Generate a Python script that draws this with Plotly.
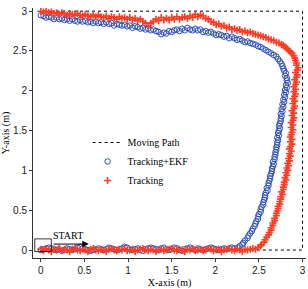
import plotly.graph_objects as go

# Moving path (reference trajectory)
path_x = [0, 3, 3, 0]
path_y = [0, 0, 3, 3]

# Tracking+EKF (blue circles): bottom, right side, top segments
ekf_bottom_x = [0.00,0.03,0.06,0.09,0.12,0.15,0.18,0.21,0.24,0.27,
                0.30,0.33,0.36,0.39,0.42,0.45,0.48,0.51,0.54,0.57,
                0.60,0.63,0.66,0.69,0.72,0.75,0.78,0.81,0.84,0.87,
                0.90,0.93,0.96,0.99,1.02,1.05,1.08,1.11,1.14,1.17,
                1.20,1.23,1.26,1.29,1.32,1.35,1.38,1.41,1.44,1.47,
                1.50,1.53,1.56,1.59,1.62,1.65,1.68,1.71,1.74,1.77,
                1.80,1.83,1.86,1.89,1.92,1.95,1.98,2.01,2.04,2.07,
                2.10,2.13,2.16,2.19,2.22]
ekf_bottom_y = [0.00,0.01,0.02,0.03,0.02,0.01,0.00,0.01,-0.01,0.00,
                0.02,0.01,0.00,0.01,0.03,0.04,0.02,0.01,0.00,-0.01,
                0.00,0.01,0.02,0.01,0.00,0.01,0.03,0.02,0.01,0.00,
                0.01,0.02,0.04,0.03,0.01,0.00,0.01,0.02,0.00,-0.01,
                0.01,0.02,0.03,0.02,0.01,0.00,0.02,0.03,0.01,0.00,
                0.01,0.03,0.02,0.00,-0.01,0.01,0.02,0.03,0.01,0.00,
                0.02,0.01,0.00,0.01,0.02,0.03,0.02,0.01,0.00,0.01,
                0.02,0.01,0.02,0.03,0.02]
ekf_side_x = [2.26,2.28,2.31,2.32,2.34,2.37,2.38,2.40,2.42,2.43,
              2.45,2.46,2.47,2.49,2.49,2.50,2.52,2.52,2.53,2.55,
              2.55,2.56,2.57,2.57,2.58,2.60,2.59,2.61,2.61,2.62,
              2.63,2.63,2.64,2.65,2.65,2.66,2.67,2.66,2.68,2.68,
              2.69,2.69,2.70,2.70,2.71,2.71,2.72,2.71,2.73,2.72,
              2.73,2.74,2.73,2.74,2.75,2.75,2.76,2.75,2.77,2.76,
              2.78,2.77,2.79,2.78,2.80,2.79,2.81,2.80,2.82,2.81,
              2.83,2.82,2.82,2.80,2.81,2.79,2.78,2.77,2.76,2.74,
              2.72,2.70,2.67,2.64,2.61,2.58,2.55,2.52,2.49,2.46,2.43]
ekf_side_y = [0.03,0.05,0.07,0.09,0.12,0.15,0.18,0.21,0.24,0.27,
              0.30,0.33,0.36,0.39,0.42,0.45,0.48,0.51,0.54,0.57,
              0.60,0.63,0.66,0.69,0.72,0.75,0.78,0.81,0.84,0.87,
              0.90,0.93,0.96,0.99,1.02,1.05,1.08,1.11,1.14,1.17,
              1.20,1.23,1.26,1.29,1.32,1.35,1.38,1.41,1.44,1.47,
              1.50,1.53,1.56,1.59,1.62,1.65,1.68,1.71,1.74,1.77,
              1.80,1.83,1.86,1.89,1.92,1.95,1.98,2.01,2.04,2.07,
              2.10,2.13,2.16,2.19,2.22,2.25,2.28,2.31,2.34,2.37,
              2.40,2.43,2.45,2.47,2.49,2.51,2.53,2.55,2.56,2.58,2.59]
ekf_top_x = [2.40,2.37,2.34,2.31,2.28,2.25,2.22,2.19,2.16,2.13,
             2.10,2.07,2.04,2.01,1.98,1.95,1.92,1.89,1.86,1.83,
             1.80,1.77,1.74,1.71,1.68,1.65,1.62,1.59,1.56,1.53,
             1.50,1.47,1.44,1.41,1.38,1.35,1.32,1.29,1.26,1.23,
             1.20,1.17,1.14,1.11,1.08,1.05,1.02,0.99,0.96,0.93,
             0.90,0.87,0.84,0.81,0.78,0.75,0.72,0.69,0.66,0.63,
             0.60,0.57,0.54,0.51,0.48,0.45,0.42,0.39,0.36,0.33,
             0.30,0.27,0.24,0.21,0.18,0.15,0.12,0.09,0.06,0.03,
             0.00]
ekf_top_y = [2.60,2.62,2.61,2.63,2.65,2.64,2.66,2.68,2.66,2.69,
             2.68,2.70,2.71,2.70,2.72,2.74,2.73,2.75,2.74,2.77,
             2.76,2.78,2.76,2.77,2.79,2.76,2.78,2.75,2.77,2.76,
             2.74,2.75,2.72,2.73,2.71,2.74,2.75,2.77,2.76,2.78,
             2.77,2.79,2.78,2.80,2.81,2.79,2.82,2.81,2.83,2.82,
             2.83,2.84,2.82,2.85,2.84,2.86,2.84,2.86,2.85,2.87,
             2.85,2.87,2.86,2.88,2.87,2.89,2.87,2.88,2.90,2.88,
             2.90,2.89,2.91,2.90,2.92,2.90,2.92,2.93,2.92,2.94,
             2.95]

# Tracking (red crosses): bottom, right side, top segments
trk_bottom_x = [0.00,0.03,0.06,0.09,0.12,0.15,0.18,0.21,0.24,0.27,
                0.30,0.33,0.36,0.39,0.42,0.45,0.48,0.51,0.54,0.57,
                0.60,0.63,0.66,0.69,0.72,0.75,0.78,0.81,0.84,0.87,
                0.90,0.93,0.96,0.99,1.02,1.05,1.08,1.11,1.14,1.17,
                1.20,1.23,1.26,1.29,1.32,1.35,1.38,1.41,1.44,1.47,
                1.50,1.53,1.56,1.59,1.62,1.65,1.68,1.71,1.74,1.77,
                1.80,1.83,1.86,1.89,1.92,1.95,1.98,2.01,2.04,2.07,
                2.10,2.13,2.16,2.19,2.22,2.25,2.28,2.31,2.34,2.37,
                2.40,2.43,2.46]
trk_bottom_y = [0.01,-0.01,0.02,0.00,-0.02,0.01,0.00,0.02,-0.01,0.01,
                0.00,-0.02,0.01,0.02,0.00,-0.01,0.01,0.00,-0.02,0.01,
                0.02,0.00,-0.01,0.01,0.00,-0.02,0.01,0.02,0.00,-0.01,
                0.01,0.00,0.02,-0.01,0.00,0.01,-0.02,0.00,0.01,0.02,
                0.00,-0.01,0.01,0.00,-0.02,0.00,0.01,-0.01,0.00,0.01,
                0.02,0.00,-0.01,0.01,0.00,-0.02,0.01,0.00,0.02,-0.01,
                0.00,0.01,-0.01,0.00,0.02,0.01,-0.01,0.00,0.01,-0.02,
                0.00,0.01,0.02,0.00,-0.01,0.01,0.00,-0.02,0.01,0.00,
                0.01,0.02,0.01]
trk_side_x = [2.49,2.52,2.53,2.56,2.57,2.59,2.61,2.62,2.64,2.64,
              2.66,2.66,2.68,2.68,2.70,2.70,2.71,2.72,2.72,2.74,
              2.74,2.75,2.75,2.77,2.76,2.78,2.78,2.79,2.79,2.81,
              2.80,2.82,2.81,2.83,2.82,2.84,2.83,2.85,2.84,2.86,
              2.85,2.87,2.85,2.86,2.88,2.86,2.88,2.86,2.87,2.88,
              2.89,2.87,2.89,2.87,2.89,2.90,2.88,2.90,2.88,2.90,
              2.91,2.89,2.91,2.89,2.91,2.92,2.90,2.92,2.90,2.92,
              2.93,2.91,2.93,2.94,2.92,2.94,2.95,2.93,2.93,2.92,
              2.91,2.90,2.88,2.86,2.84,2.82,2.80,2.78,2.76,2.73,
              2.70,2.67,2.64,2.61,2.58,2.55,2.52,2.49,2.46]
trk_side_y = [0.03,0.05,0.07,0.10,0.13,0.16,0.19,0.22,0.25,0.28,
              0.31,0.34,0.37,0.40,0.43,0.46,0.49,0.52,0.55,0.58,
              0.61,0.64,0.67,0.70,0.73,0.76,0.79,0.82,0.85,0.88,
              0.91,0.94,0.97,1.00,1.03,1.06,1.09,1.12,1.15,1.18,
              1.21,1.24,1.27,1.30,1.33,1.36,1.39,1.42,1.45,1.48,
              1.51,1.54,1.57,1.60,1.63,1.66,1.69,1.72,1.75,1.78,
              1.81,1.84,1.87,1.90,1.93,1.96,1.99,2.02,2.05,2.08,
              2.11,2.14,2.17,2.20,2.23,2.26,2.29,2.32,2.35,2.38,
              2.41,2.44,2.47,2.49,2.51,2.53,2.55,2.57,2.58,2.60,
              2.61,2.63,2.64,2.65,2.67,2.68,2.69,2.70,2.71]
trk_top_x = [2.43,2.40,2.37,2.34,2.31,2.28,2.25,2.22,2.19,2.16,
             2.13,2.10,2.07,2.04,2.01,1.98,1.95,1.92,1.89,1.86,
             1.83,1.80,1.77,1.74,1.71,1.68,1.65,1.62,1.59,1.56,
             1.53,1.50,1.47,1.44,1.41,1.38,1.35,1.32,1.29,1.26,
             1.23,1.20,1.17,1.14,1.11,1.08,1.05,1.02,0.99,0.96,
             0.93,0.90,0.87,0.84,0.81,0.78,0.75,0.72,0.69,0.66,
             0.63,0.60,0.57,0.54,0.51,0.48,0.45,0.42,0.39,0.36,
             0.33,0.30,0.27,0.24,0.21,0.18,0.15,0.12,0.09,0.06,
             0.03,0.00]
trk_top_y = [2.72,2.74,2.73,2.75,2.74,2.77,2.76,2.78,2.77,2.80,
             2.79,2.82,2.81,2.84,2.83,2.86,2.87,2.90,2.91,2.94,
             2.95,2.93,2.96,2.92,2.94,2.91,2.93,2.92,2.90,2.93,
             2.90,2.92,2.89,2.91,2.89,2.92,2.88,2.90,2.87,2.85,
             2.82,2.85,2.87,2.90,2.88,2.91,2.89,2.92,2.90,2.92,
             2.91,2.93,2.90,2.92,2.93,2.91,2.94,2.92,2.93,2.95,
             2.93,2.95,2.93,2.94,2.96,2.94,2.95,2.97,2.95,2.96,
             2.97,2.95,2.97,2.98,2.96,2.98,2.97,2.99,2.98,3.00,
             2.99,3.00]

x_ticks = [0, 0.5, 1, 1.5, 2, 2.5, 3]
y_ticks = [0, 0.5, 1, 1.5, 2, 2.5, 3]

ekf_x = ekf_bottom_x + ekf_side_x + ekf_top_x
ekf_y = ekf_bottom_y + ekf_side_y + ekf_top_y
trk_x = trk_bottom_x + trk_side_x + trk_top_x
trk_y = trk_bottom_y + trk_side_y + trk_top_y
assert len(ekf_x) == len(ekf_y) and len(trk_x) == len(trk_y)

serif = "Liberation Serif, Times New Roman, serif"
sans = "Liberation Sans, Arial, sans-serif"
blue = "#2d4fb5"
red = "#ff3a22"

fig = go.Figure()
fig.add_trace(go.Scatter(x=path_x, y=path_y, mode="lines", name="Moving Path",
                         line=dict(color="black", width=1, dash="dot")))
fig.add_trace(go.Scatter(x=ekf_x, y=ekf_y, mode="markers", name="Tracking+EKF",
                         marker=dict(symbol="circle-open", size=5.5, color=blue,
                                     line=dict(width=1, color=blue))))
fig.add_trace(go.Scatter(x=trk_x, y=trk_y, mode="markers", name="Tracking",
                         marker=dict(symbol="cross-thin", size=5, color=red,
                                     line=dict(width=1.6, color=red))))

# START box and arrow
fig.add_shape(type="rect", x0=-0.07, x1=0.12, y0=-0.02, y1=0.14,
              line=dict(color="black", width=0.8))
fig.add_annotation(x=0.55, y=0.075, ax=0.13, ay=0.075, axref="x", ayref="y",
                   xref="x", yref="y", text="", showarrow=True,
                   arrowhead=2, arrowsize=1.3, arrowwidth=1, arrowcolor="black")
fig.add_annotation(x=0.31, y=0.18, xref="x", yref="y", text="START", showarrow=False,
                   font=dict(family=serif, size=10, color="black"))

fig.update_layout(
    width=308, height=289,
    margin=dict(l=33, r=2, t=8, b=31),
    plot_bgcolor="white", paper_bgcolor="white",
    showlegend=True,
    legend=dict(x=0.2, y=0.52, xanchor="left", yanchor="top",
                bgcolor="rgba(0,0,0,0)", font=dict(family=serif, size=10, color="black"),
                itemwidth=30, tracegroupgap=0),
)
fig.update_xaxes(range=[-0.09, 3.04], tickvals=x_ticks, ticktext=[str(v) for v in x_ticks],
                 showgrid=False, zeroline=False, showline=True, linecolor="#333", linewidth=1,
                 ticks="outside", ticklen=3, tickcolor="#333",
                 tickfont=dict(family=sans, size=10, color="#222"),
                 title=dict(text="X-axis (m)", font=dict(family=serif, size=10, color="black"), standoff=4))
fig.update_yaxes(range=[-0.1, 3.04], tickvals=y_ticks, ticktext=[str(v) for v in y_ticks],
                 showgrid=False, zeroline=False, showline=True, linecolor="#333", linewidth=1,
                 ticks="outside", ticklen=3, tickcolor="#333",
                 tickfont=dict(family=sans, size=10, color="#222"),
                 title=dict(text="Y-axis (m)", font=dict(family=serif, size=10, color="black"), standoff=1))

fig.write_html("out.html")
